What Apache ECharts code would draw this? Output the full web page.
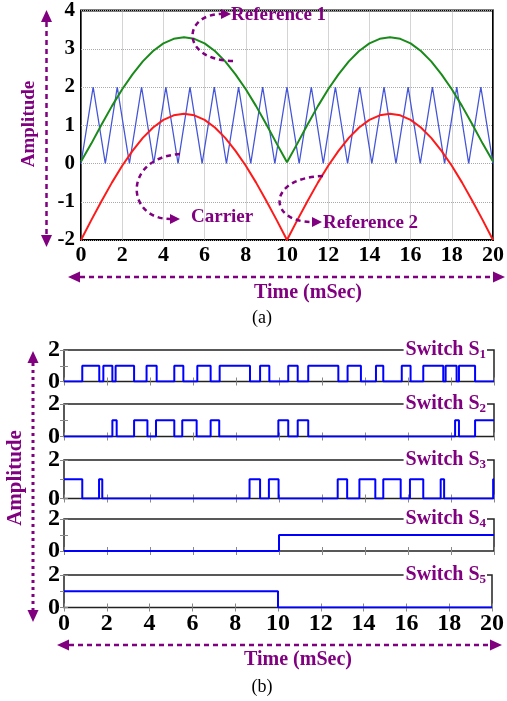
<!DOCTYPE html>
<html><head><meta charset="utf-8">
<script src="https://cdn.jsdelivr.net/npm/echarts@6/dist/echarts.min.js"></script>
<style>html,body{margin:0;padding:0;background:#fff}#c{width:507px;height:701px}</style>
</head><body><div id="c"></div>
<script>
// ---------- data ----------
const refTime = [0,0.5,1,1.5,2,2.5,3,3.5,4,4.5,5,5.5,6,6.5,7,7.5,8,8.5,9,9.5,10,
                 10.5,11,11.5,12,12.5,13,13.5,14,14.5,15,15.5,16,16.5,17,17.5,18,18.5,19,19.5,20];
const reference1 = [0.05,0.52,1.02,1.50,1.94,2.33,2.67,2.94,3.14,3.26,3.30,3.26,3.14,2.94,2.67,2.33,1.94,1.50,1.02,0.52,0.03,
                    0.52,1.02,1.50,1.94,2.33,2.67,2.94,3.14,3.26,3.30,3.26,3.14,2.94,2.67,2.33,1.94,1.50,1.02,0.52,0.05];
const reference2 = [-2.00,-1.48,-0.98,-0.50,-0.06,0.33,0.67,0.94,1.14,1.26,1.30,1.26,1.14,0.94,0.67,0.33,-0.06,-0.50,-0.98,-1.48,-2.00,
                    -1.48,-0.98,-0.50,-0.06,0.33,0.67,0.94,1.14,1.26,1.30,1.26,1.14,0.94,0.67,0.33,-0.06,-0.50,-0.98,-1.48,-2.00];
const carrierTime = [0,0.59,1.18,1.76,2.35,2.94,3.53,4.12,4.71,5.29,5.88,6.47,7.06,7.65,8.24,8.82,9.41,10.0,
                     10.59,11.18,11.76,12.35,12.94,13.53,14.12,14.71,15.29,15.88,16.47,17.06,17.65,18.24,18.82,19.41,20];
const carrierValue = [0,2,0,2,0,2,0,2,0,2,0,2,0,2,0,2,0,2,0,2,0,2,0,2,0,2,0,2,0,2,0,2,0,2,0];

// switching signals: initial level and switching instants (ms)
const switchNames = ['1','2','3','4','5'];
const switchStart = [0, 0, 1, 0, 1];
const s1Edges = [0.85,1.64,1.83,2.25,2.40,3.26,3.84,4.31,5.13,5.55,6.20,6.82,7.24,8.65,9.12,9.55,
                 10.43,10.87,11.36,12.76,13.19,13.81,14.51,14.85,15.71,16.12,16.71,17.64,17.75,18.26,18.37,19.12];
const s2Edges = [2.25,2.45,3.26,3.88,4.28,5.13,5.50,6.17,6.82,7.22,9.97,10.43,10.87,11.36,18.19,18.37,19.12];
const s3Edges = [0.85,1.63,1.78,8.63,9.12,9.53,9.98,12.73,13.17,13.74,14.48,14.85,15.66,16.09,16.71,17.52,17.68,19.96];
const s4Edges = [10.0];
const s5Edges = [10.0];
const switchEdges = [s1Edges,s2Edges,s3Edges,s4Edges,s5Edges];

// ---------- layout / style ----------
const PURPLE = '#800080';
const SERIF = "'Liberation Serif','Times New Roman',serif";
const panels = [
  {top:350, height:31.5},{top:404, height:32.5},{top:460, height:38.5},{top:519, height:32},{top:575, height:32.5}
];
function stepData(start, edges){
  const d=[[0,start]]; let v=start;
  edges.forEach(e=>{ v=1-v; d.push([e,v]); });
  d.push([20,v]); return d;
}
function zip(a,b){ return a.map((x,i)=>[x,b[i]]); }

const grid=[{left:81, top:3, width:419, height:237, show:true, borderColor:'#000', borderWidth:2}];
const xAxis=[{gridIndex:0,type:'value',min:0,max:20,interval:2,
  axisLine:{show:false},axisTick:{show:false},
  axisLabel:{margin:4,fontFamily:SERIF,fontWeight:'bold',fontSize:22,color:'#000'},
  splitLine:{show:true,lineStyle:{type:'dotted',color:'#aaa',width:1}}}];
const yAxis=[{gridIndex:0,type:'value',min:-2,max:4,interval:1,
  axisLine:{show:false},axisTick:{show:false},
  axisLabel:{margin:6,fontFamily:SERIF,fontWeight:'bold',fontSize:21,color:'#000'},
  splitLine:{show:true,lineStyle:{type:'dotted',color:'#aaa',width:1}}}];
const series=[
  {type:'line',xAxisIndex:0,yAxisIndex:0,data:zip(carrierTime,carrierValue),showSymbol:false,
   lineStyle:{color:'#4455d8',width:1.3},itemStyle:{color:'#4455d8'},z:2},
  {type:'line',xAxisIndex:0,yAxisIndex:0,data:zip(refTime,reference1),showSymbol:false,
   lineStyle:{color:'#1a8a1a',width:2},itemStyle:{color:'#1a8a1a'},z:3},
  {type:'line',xAxisIndex:0,yAxisIndex:0,data:zip(refTime,reference2),showSymbol:false,
   lineStyle:{color:'#ff1a1a',width:2},itemStyle:{color:'#ff1a1a'},z:4}
];
const tickStyle={show:true,inside:true,length:4,lineStyle:{color:'#888',width:1}};
panels.forEach((p,i)=>{
  const gi=i+1;
  grid.push({left:64,width:430,top:p.top,height:p.height,show:true,borderColor:'#222',borderWidth:1.5});
  const last = i===panels.length-1;
  xAxis.push({gridIndex:gi,type:'value',min:0,max:20,interval:2,position:'bottom',
    axisLine:{show:false},axisTick:tickStyle,splitLine:{show:false},
    axisLabel:{show:last,margin:4,fontFamily:SERIF,fontWeight:'bold',fontSize:24,color:'#000'}});
  xAxis.push({gridIndex:gi,type:'value',min:0,max:20,interval:2,position:'top',
    axisLine:{show:false},axisTick:tickStyle,splitLine:{show:false},axisLabel:{show:false}});
  yAxis.push({gridIndex:gi,type:'value',min:0,max:2,interval:1,position:'left',
    axisLine:{show:false},axisTick:tickStyle,splitLine:{show:false},
    axisLabel:{margin:4,fontFamily:SERIF,fontWeight:'bold',fontSize:24,color:'#000',
      formatter:v=>v===1?'':String(v)}});
  yAxis.push({gridIndex:gi,type:'value',min:0,max:2,interval:1,position:'right',
    axisLine:{show:false},axisTick:tickStyle,splitLine:{show:false},axisLabel:{show:false}});
  series.push({type:'line',xAxisIndex:1+2*i,yAxisIndex:1+2*i,step:'end',
    data:stepData(switchStart[i],switchEdges[i]),showSymbol:false,
    lineStyle:{color:'#0000ff',width:2},itemStyle:{color:'#0000ff'},z:3});
});

// ---------- annotations ----------
const dash={stroke:PURPLE,lineWidth:2.5,lineDash:[5,4],fill:null};
const dot={stroke:PURPLE,lineWidth:3,lineDash:[3,4],fill:null};
function head(tipX,tipY,dir,len,half){
  let pts;
  if(dir==='r') pts=[[tipX,tipY],[tipX-len,tipY-half],[tipX-len,tipY+half]];
  if(dir==='l') pts=[[tipX,tipY],[tipX+len,tipY-half],[tipX+len,tipY+half]];
  if(dir==='u') pts=[[tipX,tipY],[tipX-half,tipY+len],[tipX+half,tipY+len]];
  if(dir==='d') pts=[[tipX,tipY],[tipX-half,tipY-len],[tipX+half,tipY-len]];
  return {type:'polygon',z:100,shape:{points:pts},style:{fill:PURPLE}};
}
function txt(x,y,text,opts){
  return Object.assign({type:'text',z:100,x:x,y:y,style:Object.assign({text:text,fill:PURPLE,
    font:'bold 19px '+SERIF,align:'left',verticalAlign:'middle'},opts||{})});
}
const graphic=[
  // top chart axes arrows
  {type:'line',z:100,shape:{x1:46.5,y1:22,x2:46.5,y2:235},style:dash},
  head(46.5,10,'u',12,5.5), head(46.5,247,'d',12,5.5),
  {type:'line',z:100,shape:{x1:80,y1:277,x2:493,y2:277},style:dash},
  head(68,277,'l',12,5.5), head(505,277,'r',12,5.5),
  Object.assign(txt(29,124,'Amplitude',{align:'center'}),{rotation:Math.PI/2}),
  txt(308,293,'Time (mSec)',{align:'center',font:'bold 20px '+SERIF}),
  txt(262,318,'(a)',{align:'center',fill:'#000',font:'18px '+SERIF}),
  // curved pointers
  {type:'bezierCurve',z:100,shape:{x1:233,y1:61,cpx1:180,cpy1:60,cpx2:182,cpy2:14,x2:222,y2:14},style:dash},
  head(231,14,'r',10,5),
  txt(231,15,'Reference 1'),
  {type:'bezierCurve',z:100,shape:{x1:180,y1:154,cpx1:122,cpy1:158,cpx2:126,cpy2:219,x2:170,y2:219},style:dash},
  head(180,219,'r',10,5),
  txt(191,217,'Carrier'),
  {type:'bezierCurve',z:100,shape:{x1:323,y1:176,cpx1:266,cpy1:178,cpx2:268,cpy2:222,x2:312,y2:222},style:dash},
  head(322,222,'r',10,5),
  txt(323,223,'Reference 2'),
  // bottom chart axes arrows
  {type:'line',z:100,shape:{x1:33,y1:363,x2:33,y2:610},style:dot},
  head(33,351,'u',12,5.5), head(33,622,'d',12,5.5),
  {type:'line',z:100,shape:{x1:69,y1:645,x2:490,y2:645},style:dash},
  head(57,645,'l',12,5.5), head(502,645,'r',12,5.5),
  Object.assign(txt(16,478,'Amplitude',{align:'center',font:'bold 21px '+SERIF}),{rotation:Math.PI/2}),
  txt(298,660,'Time (mSec)',{align:'center',font:'bold 20px '+SERIF}),
  txt(262,687,'(b)',{align:'center',fill:'#000',font:'18px '+SERIF})
];
panels.forEach((p,i)=>{
  graphic.push({type:'text',z:100,x:487,y:p.top,style:{
    text:'{a|Switch S}{b|'+switchNames[i]+'}',align:'right',verticalAlign:'middle',
    backgroundColor:'#fff',padding:[0,1,0,2],
    rich:{a:{fontFamily:SERIF,fontWeight:'bold',fontSize:20,fill:PURPLE,color:PURPLE,lineHeight:22},
          b:{fontFamily:SERIF,fontWeight:'bold',fontSize:13,fill:PURPLE,color:PURPLE,lineHeight:10,verticalAlign:'bottom'}}
  }});
});

const chart=echarts.init(document.getElementById('c'),null,{renderer:'canvas'});
chart.setOption({animation:false,backgroundColor:'#fff',grid,xAxis,yAxis,series,graphic});
</script></body></html>
